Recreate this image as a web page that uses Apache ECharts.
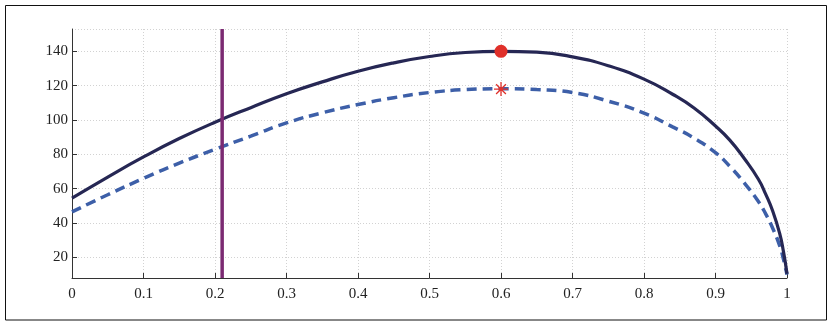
<!DOCTYPE html>
<html>
<head>
<meta charset="utf-8">
<script src="https://cdn.jsdelivr.net/npm/echarts@6/dist/echarts.min.js"></script>
<style>
  html, body { margin: 0; padding: 0; background: #fff; }
  #chart { width: 834px; height: 329px; }
</style>
</head>
<body>
<div id="chart"></div>
<script>
// Sample positions along the horizontal axis
const xs = [0, 0.05, 0.1, 0.15, 0.2, 0.25, 0.3, 0.35, 0.4, 0.45, 0.5, 0.55, 0.6,
            0.65, 0.7, 0.75, 0.8, 0.84, 0.87, 0.9, 0.92, 0.94, 0.96, 0.97, 0.98,
            0.99, 0.995, 1];
// Upper curve (solid)
const solidVals = [54.5, 66.8, 78.5, 89.2, 98.7, 107.2, 115.3, 122.2, 128.4, 133.3, 137, 139.3, 140,
                   139.5, 136.8, 131.6, 123.8, 115, 107, 96.5, 88.3, 77.7, 65.5, 57, 47,
                   33.5, 23.5, 10.5];
// Lower curve (dashed)
const dashedVals = [46.5, 56.5, 66, 74.9, 82.9, 90.6, 98.3, 104.2, 109, 113, 116, 117.7, 118.2,
                    117.7, 116, 111, 104, 96, 89.5, 81, 73, 63.5, 52.5, 45.5, 37,
                    26.5, 19, 10];
// Highlighted maxima
const peakX = 0.6;
const peakSolid = 140;
const peakDashed = 118;
// Vertical reference line
const refX = 0.21;
// Axis extents and tick labels
const xRange = [0, 1];
const yRange = [8, 153];
const xTicks = ['0', '0.1', '0.2', '0.3', '0.4', '0.5', '0.6', '0.7', '0.8', '0.9', '1'];

const pair = (a, b) => a.map((v, i) => [v, b[i]]);

const font = 'Liberation Serif, Times New Roman, serif';
const chart = echarts.init(document.getElementById('chart'), null, { renderer: 'canvas' });

chart.setOption({
  animation: false,
  backgroundColor: '#ffffff',
  graphic: [{
    type: 'rect',
    shape: { x: 5.5, y: 5.5, width: 821, height: 314.5 },
    style: { fill: 'none', stroke: '#111', lineWidth: 1 },
    silent: true
  }],
  grid: { left: 72, right: 47, top: 29, bottom: 51, containLabel: false },
  xAxis: {
    type: 'value',
    min: xRange[0], max: xRange[1], interval: 0.1,
    axisLine: { show: true, onZero: false, lineStyle: { color: '#333', width: 1 } },
    axisTick: { show: true, inside: true, length: 5, lineStyle: { color: '#333' } },
    axisLabel: {
      margin: 9, color: '#222', fontFamily: font, fontSize: 15,
      formatter: v => xTicks[Math.round(v * 10)]
    },
    splitLine: { show: true, lineStyle: { color: '#d2d2d2', type: [1, 2], width: 1 } }
  },
  yAxis: {
    type: 'value',
    min: yRange[0], max: yRange[1], splitNumber: 7,
    axisLine: { show: true, onZero: false, lineStyle: { color: '#333', width: 1 } },
    axisTick: { show: true, inside: true, length: 5, lineStyle: { color: '#333' } },
    axisLabel: {
      margin: 4, color: '#222', fontFamily: font, fontSize: 15,
      showMinLabel: false, showMaxLabel: false
    },
    splitLine: { show: true, lineStyle: { color: '#d2d2d2', type: [1, 2], width: 1 } }
  },
  series: [
    {
      type: 'line', data: pair(xs, dashedVals), showSymbol: false,
      smooth: 0.5,
      lineStyle: { color: '#3d5fa8', width: 3.5, type: [10, 6] },
      z: 2
    },
    {
      type: 'line', data: pair(xs, solidVals), showSymbol: false,
      smooth: 0.5,
      lineStyle: { color: '#262754', width: 3.2 },
      z: 3
    },
    {
      type: 'line', data: [[refX, yRange[0]], [refX, yRange[1]]], showSymbol: false,
      lineStyle: { color: '#7b2a72', width: 3.5 },
      z: 4
    },
    {
      type: 'scatter', data: [[peakX, peakSolid]],
      symbol: 'circle', symbolSize: 13,
      itemStyle: { color: '#e0302a', opacity: 1 },
      z: 5
    },
    {
      type: 'scatter', data: [[peakX, peakDashed]],
      symbol: 'path://M0,5 L10,5 M5,0 L5,10 M1.5,1.5 L8.5,8.5 M8.5,1.5 L1.5,8.5',
      symbolSize: 14,
      itemStyle: { color: 'rgba(0,0,0,0)', borderColor: '#e0302a', borderWidth: 1.3, opacity: 1 },
      z: 5
    }
  ]
});
</script>
</body>
</html>
